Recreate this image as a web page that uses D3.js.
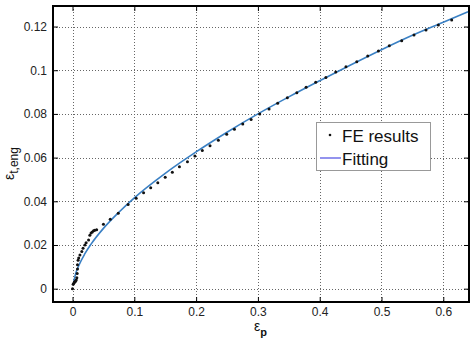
<!DOCTYPE html>
<html>
<head>
<meta charset="utf-8">
<script src="https://cdn.jsdelivr.net/npm/d3@7"></script>
<style>
  body { margin: 0; background: #fff; }
  svg { display: block; font-family: "Liberation Sans", Arial, Helvetica, sans-serif; }
</style>
</head>
<body>
<svg id="chart" width="473" height="340"></svg>
<script>
// FE results (eps_p, eps_t,eng)
var fe_x = [0, 0.001, 0.002, 0.003, 0.004, 0.005, 0.006, 0.007, 0.0075, 0.008, 0.008, 0.009, 0.010,
            0.012, 0.015, 0.017, 0.020, 0.022, 0.026, 0.028, 0.030, 0.032, 0.034, 0.036, 0.039,
            0.050, 0.061, 0.074, 0.090, 0.103, 0.115, 0.1265, 0.138, 0.150, 0.1615, 0.173, 0.186,
            0.198, 0.210, 0.2225, 0.236, 0.2495, 0.262, 0.2755, 0.289, 0.303, 0.318, 0.332, 0.3476,
            0.363, 0.378, 0.3935, 0.410, 0.426, 0.4425, 0.460, 0.4777, 0.495, 0.5126, 0.5327,
            0.5526, 0.572, 0.592, 0.6136];
var fe_y = [0, 0.002, 0.0025, 0.003, 0.0032, 0.0035, 0.004, 0.005, 0.007, 0.009, 0.011, 0.013, 0.014,
            0.0154, 0.017, 0.0185, 0.020, 0.021, 0.0223, 0.0245, 0.0255, 0.026, 0.0265, 0.0268, 0.027,
            0.0295, 0.0318, 0.0345, 0.0385, 0.0414, 0.0439, 0.0462, 0.0485, 0.051, 0.0533, 0.0558, 0.0581,
            0.0607, 0.0632, 0.0654, 0.068, 0.0707, 0.073, 0.0754, 0.0775, 0.080, 0.0822, 0.0849, 0.0874,
            0.0897, 0.0922, 0.0945, 0.0967, 0.0992, 0.1016, 0.1039, 0.1065, 0.1088, 0.1112, 0.1135,
            0.1161, 0.1184, 0.1207, 0.1230];

// fitting curve
var fit_x = [0.002, 0.005, 0.01, 0.02, 0.03, 0.05, 0.075, 0.1, 0.15, 0.2, 0.25, 0.3, 0.35, 0.4,
             0.45, 0.5, 0.55, 0.6, 0.64];
var fit_y = [0.003, 0.0068, 0.0105, 0.0160, 0.0204, 0.0276, 0.0350, 0.0416, 0.0528, 0.0626, 0.0716,
             0.0800, 0.0878, 0.0952, 0.1024, 0.1094, 0.1160, 0.1220, 0.1268];

var x_ticks = [0, 0.1, 0.2, 0.3, 0.4, 0.5, 0.6];
var y_ticks = [0, 0.02, 0.04, 0.06, 0.08, 0.1, 0.12];
var legend_labels = ["FE results", "Fitting"];

var left = 53, top_ = 6, right = 469, bottom = 302;
var svg = d3.select("#chart");

var x = d3.scaleLinear().domain([-0.0316, 0.6416]).range([left, right]);
var y = d3.scaleLinear().domain([-0.0061, 0.1294]).range([bottom, top_]);

var fe = fe_x.map((d, i) => [d, fe_y[i]]);
var fit = fit_x.map((d, i) => [d, fit_y[i]]);

// grid
var grid = svg.append("g").attr("stroke", "#666").attr("stroke-width", 1)
  .attr("stroke-dasharray", "1,2");
grid.selectAll(".gx").data(x_ticks).enter().append("line")
  .attr("x1", d => Math.round(x(d)) + 0.5).attr("x2", d => Math.round(x(d)) + 0.5)
  .attr("y1", top_).attr("y2", bottom);
grid.selectAll(".gy").data(y_ticks).enter().append("line")
  .attr("y1", d => Math.round(y(d)) + 0.5).attr("y2", d => Math.round(y(d)) + 0.5)
  .attr("x1", left).attr("x2", right);

// axes, ticks inside on all four sides
function fmt(d) { return d === 0 ? "0" : String(+d.toFixed(2)); }

svg.append("g").attr("transform", `translate(0,${bottom})`)
  .call(d3.axisBottom(x).tickValues(x_ticks).tickSize(-5).tickPadding(5).tickFormat(fmt))
  .call(g => g.select(".domain").remove());
svg.append("g").attr("transform", `translate(0,${top_})`)
  .call(d3.axisTop(x).tickValues(x_ticks).tickSize(-5).tickFormat(""))
  .call(g => g.select(".domain").remove());
svg.append("g").attr("transform", `translate(${left},0)`)
  .call(d3.axisLeft(y).tickValues(y_ticks).tickSize(-5).tickPadding(6).tickFormat(fmt))
  .call(g => g.select(".domain").remove());
svg.append("g").attr("transform", `translate(${right},0)`)
  .call(d3.axisRight(y).tickValues(y_ticks).tickSize(-5).tickFormat(""))
  .call(g => g.select(".domain").remove());

svg.selectAll(".tick text").attr("font-size", 12).attr("fill", "#222")
  .attr("font-family", "'Liberation Sans', Arial, sans-serif");
svg.selectAll(".tick line").attr("stroke", "#000").attr("stroke-width", 1);

svg.append("rect")
  .attr("x", left).attr("y", top_).attr("width", right - left).attr("height", bottom - top_)
  .attr("fill", "none").attr("stroke", "#000").attr("stroke-width", 2);

// fitting curve
var line = d3.line().x(d => x(d[0])).y(d => y(d[1])).curve(d3.curveMonotoneX);
svg.append("path").datum(fit)
  .attr("d", line).attr("fill", "none")
  .attr("stroke", "#3a80c4").attr("stroke-width", 1.6);

// FE points
svg.append("g").selectAll("circle").data(fe).enter().append("circle")
  .attr("cx", d => x(d[0])).attr("cy", d => y(d[1]))
  .attr("r", 1.5).attr("fill", "#111");

// legend
var lg = svg.append("g");
lg.append("rect").attr("x", 316.5).attr("y", 122.5).attr("width", 114).attr("height", 48)
  .attr("fill", "#fff").attr("stroke", "#999").attr("stroke-width", 1);
lg.append("circle").attr("cx", 330).attr("cy", 135).attr("r", 1.3).attr("fill", "#111");
lg.append("line").attr("x1", 320).attr("x2", 341).attr("y1", 158).attr("y2", 158)
  .attr("stroke", "#6f6fe8").attr("stroke-width", 1.5);
lg.selectAll("text").data(legend_labels).enter().append("text")
  .attr("x", 342).attr("y", (d, i) => 141.5 + i * 23.5)
  .attr("font-size", 17).attr("fill", "#111").text(d => d);

// axis labels
var xl = svg.append("text").attr("x", 254).attr("y", 331).attr("fill", "#111");
xl.append("tspan").attr("font-size", 14).text("ε");
xl.append("tspan").attr("font-size", 11).attr("font-weight", "bold").attr("dy", 5).text("p");

var yl = svg.append("text").attr("transform", "translate(14,180) rotate(-90)").attr("fill", "#111");
yl.append("tspan").attr("font-size", 14).text("ε");
yl.append("tspan").attr("font-size", 12).attr("dy", 4).text("t,eng");
</script>
</body>
</html>
